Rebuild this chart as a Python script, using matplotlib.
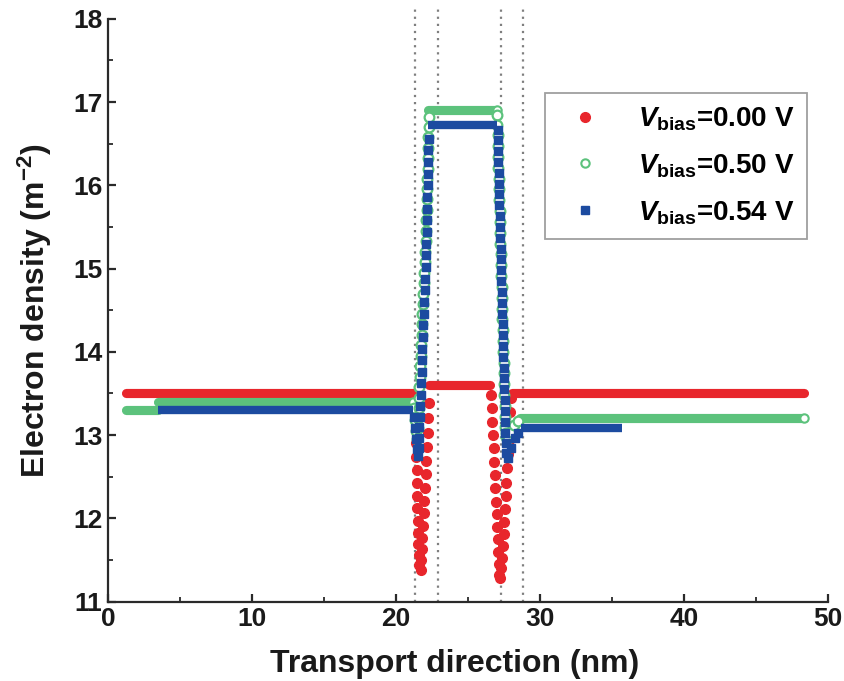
import matplotlib
matplotlib.use('Agg')
import matplotlib.pyplot as plt
from matplotlib.lines import Line2D
from matplotlib.ticker import MultipleLocator

plt.rcParams['font.family'] = ['Liberation Sans', 'DejaVu Sans']
plt.rcParams['font.weight'] = 'bold'
plt.rcParams['mathtext.fontset'] = 'custom'
plt.rcParams['mathtext.rm'] = 'Liberation Sans:bold'
plt.rcParams['mathtext.it'] = 'Liberation Sans:bold:italic'
plt.rcParams['mathtext.bf'] = 'Liberation Sans:bold'

# ---------------- data ----------------
labels = ['0.00', '0.50', '0.54']
barrier_edges = [21.3, 22.9, 27.3, 28.8]

# flat regions: (x_start, x_end, density)
red_flats = [(1.25, 21.3, 13.5), (22.3, 26.55, 13.6), (28.05, 48.35, 13.5)]
green_flats = [(1.25, 3.5, 13.3), (3.5, 21.2, 13.4), (22.25, 27.0, 16.9), (28.6, 48.35, 13.2)]
blue_flats = [(3.5, 21.2, 13.3), (22.25, 27.0, 16.72), (28.7, 35.7, 13.08)]

# barrier points, V = 0.00 V
red_x = [21.33, 21.35, 21.37, 21.39, 21.41, 21.43, 21.45, 21.47, 21.49, 21.51, 21.53, 21.55, 21.57, 21.6,
         21.72, 21.76, 21.8, 21.84, 21.88, 21.92, 21.96, 22.0, 22.05, 22.1, 22.15, 22.2, 22.25, 22.3,
         26.6, 26.65, 26.7, 26.74, 26.78, 26.82, 26.86, 26.9, 26.94, 26.98, 27.02, 27.06, 27.1, 27.14,
         27.18, 27.25,
         27.32, 27.37, 27.42, 27.47, 27.52, 27.57, 27.62, 27.67, 27.72, 27.77, 27.82, 27.87, 27.92, 27.97]
red_y = [13.38, 13.22, 13.06, 12.9, 12.74, 12.58, 12.42, 12.27, 12.12, 11.97, 11.83, 11.69, 11.56, 11.44,
         11.38, 11.5, 11.63, 11.77, 11.91, 12.06, 12.21, 12.37, 12.53, 12.69, 12.86, 13.03, 13.2, 13.38,
         13.48, 13.32, 13.16, 13.0, 12.84, 12.68, 12.52, 12.36, 12.2, 12.05, 11.9, 11.75, 11.6, 11.45,
         11.32, 11.28,
         11.4, 11.53, 11.67, 11.81, 11.96, 12.11, 12.27, 12.43, 12.6, 12.77, 12.94, 13.11, 13.28, 13.45]

# barrier points, V = 0.50 V
green_x = [21.25, 21.32, 21.38, 21.45, 21.5, 21.54, 21.57, 21.6, 21.63, 21.66, 21.69, 21.72, 21.75,
           21.78, 21.81, 21.84, 21.87, 21.9, 21.93, 21.96, 21.99, 22.02, 22.05, 22.08, 22.1, 22.12,
           22.14, 22.16, 22.18, 22.2, 22.22, 22.24, 22.25, 22.26, 22.27,
           27.03, 27.04, 27.05, 27.07, 27.09, 27.11, 27.13, 27.15, 27.17, 27.19, 27.21, 27.23, 27.25,
           27.27, 27.29, 27.31, 27.33, 27.35, 27.37, 27.39, 27.41, 27.43, 27.45, 27.47, 27.49, 27.51,
           27.53, 27.55, 27.57, 27.59, 27.61, 27.63, 27.75, 27.95, 28.2, 28.45]
green_y = [13.32, 13.18, 13.05, 12.95, 13.08, 13.2, 13.33, 13.45, 13.58, 13.7, 13.83, 13.95, 14.08,
           14.2, 14.33, 14.45, 14.58, 14.7, 14.83, 14.95, 15.08, 15.2, 15.33, 15.45, 15.58, 15.7,
           15.83, 15.95, 16.08, 16.2, 16.33, 16.45, 16.58, 16.7, 16.82,
           16.84, 16.72, 16.6, 16.47, 16.34, 16.21, 16.08, 15.95, 15.82, 15.69, 15.56, 15.43, 15.3,
           15.17, 15.04, 14.91, 14.78, 14.65, 14.52, 14.39, 14.26, 14.13, 14.0, 13.87, 13.74, 13.61,
           13.48, 13.35, 13.22, 13.1, 13.02, 12.98, 12.96, 13.04, 13.12, 13.17]

# barrier points, V = 0.54 V
blue_x = [21.25, 21.33, 21.4, 21.47, 21.53, 21.57, 21.6, 21.63, 21.66, 21.69, 21.72, 21.75, 21.78,
          21.81, 21.84, 21.87, 21.9, 21.93, 21.96, 21.99, 22.02, 22.05, 22.08, 22.1, 22.12, 22.14,
          22.16, 22.18, 22.2, 22.22, 22.24, 22.25, 22.26,
          27.05, 27.06, 27.08, 27.1, 27.12, 27.14, 27.16, 27.18, 27.2, 27.22, 27.24, 27.26, 27.28, 27.3,
          27.32, 27.34, 27.36, 27.38, 27.4, 27.42, 27.44, 27.46, 27.48, 27.5, 27.52, 27.54, 27.56,
          27.58, 27.6, 27.62, 27.64, 27.8, 28.0, 28.25, 28.5]
blue_y = [13.22, 13.08, 12.95, 12.83, 12.75, 12.85, 12.97, 13.1, 13.22, 13.35, 13.48, 13.62, 13.76,
          13.9, 14.04, 14.18, 14.32, 14.46, 14.6, 14.74, 14.88, 15.02, 15.16, 15.3, 15.44, 15.58,
          15.72, 15.86, 16.0, 16.14, 16.28, 16.42, 16.56,
          16.66, 16.54, 16.41, 16.28, 16.15, 16.02, 15.89, 15.76, 15.63, 15.5, 15.37, 15.24, 15.11, 14.98,
          14.85, 14.72, 14.59, 14.46, 14.33, 14.2, 14.07, 13.94, 13.81, 13.68, 13.55, 13.42, 13.29,
          13.16, 13.03, 12.9, 12.78, 12.72, 12.85, 12.96, 13.03]

red = '#e8262c'
green = '#5cc27c'
blue = '#1c4ba0'

# ---------------- figure ----------------
fig = plt.figure(figsize=(8.44, 6.81), dpi=100)
ax = fig.add_axes([0.128, 0.1165, 0.853, 0.856])

ms = 7
lw_flat = 6.6

# red
for x0, x1, y in red_flats:
    ax.plot([x0, x1], [y, y], color=red, lw=lw_flat, solid_capstyle='round', zorder=2)
ax.plot(red_x, red_y, 'o', ms=ms, color=red, mec=red, zorder=3)

# green
for x0, x1, y in green_flats:
    ax.plot([x0, x1], [y, y], color=green, lw=lw_flat, solid_capstyle='round', zorder=4)
ax.plot([f[1] for f in green_flats[1:]], [f[2] for f in green_flats[1:]], 'o', ms=ms - 1,
        mfc='white', mec=green, mew=1.5, zorder=5)
ax.plot(green_x, green_y, 'o', ms=ms, mfc='white', mec=green, mew=1.6, zorder=5)

# blue
for x0, x1, y in blue_flats:
    ax.plot([x0, x1], [y, y], color=blue, lw=lw_flat - 0.6, solid_capstyle='butt', zorder=6)
ax.plot(blue_x, blue_y, 's', ms=ms - 1, color=blue, mec=blue, zorder=7)

# barrier edges
for xb in barrier_edges:
    ax.plot([xb, xb], [11, 18.17], color='#7f7f7f', lw=1.6, ls=(0, (1, 2.2)),
            clip_on=False, zorder=1)

ax.set_xlim(0, 50)
ax.set_ylim(11, 18)
ax.xaxis.set_major_locator(MultipleLocator(10))
ax.xaxis.set_minor_locator(MultipleLocator(5))
ax.yaxis.set_major_locator(MultipleLocator(1))
ax.yaxis.set_minor_locator(MultipleLocator(0.5))
for s in ['top', 'right']:
    ax.spines[s].set_visible(False)
for s in ['left', 'bottom']:
    ax.spines[s].set_linewidth(1.6)
    ax.spines[s].set_color('#2a2a2a')
ax.tick_params(which='major', direction='in', length=6, width=1.6, labelsize=19, pad=4,
               colors='#2a2a2a', labelcolor='#1a1a1a')
ax.tick_params(which='minor', direction='in', length=3.5, width=1.3, colors='#2a2a2a')
for t in ax.get_xticklabels() + ax.get_yticklabels():
    t.set_fontweight('bold')

ax.set_xlabel('Transport direction (nm)', fontsize=23, fontweight='bold', labelpad=4, color='#1a1a1a')
ax.xaxis.set_label_coords(0.482, -0.082)
ax.set_ylabel('Electron density (m$^{-2}$)', fontsize=23, fontweight='bold', labelpad=14, color='#1a1a1a')

handles = [
    Line2D([], [], ls='none', marker='o', ms=7, color=red, mec=red),
    Line2D([], [], ls='none', marker='o', ms=6, mfc='white', mec=green, mew=1.5),
    Line2D([], [], ls='none', marker='s', ms=6, color=blue, mec=blue),
]
leg_labels = [r'$V_{\mathrm{bias}}$=' + v + ' V' for v in labels]
leg = ax.legend(handles, leg_labels, loc='upper right', bbox_to_anchor=(0.971, 0.873),
                borderaxespad=0, frameon=True, fancybox=False,
                handletextpad=0.9, handlelength=2.0, labelspacing=0.7, borderpad=0.45,
                prop={'weight': 'bold', 'size': 20})
leg.get_frame().set_edgecolor('#888888')
leg.get_frame().set_linewidth(1.3)

fig.savefig('out.png', dpi=100)
